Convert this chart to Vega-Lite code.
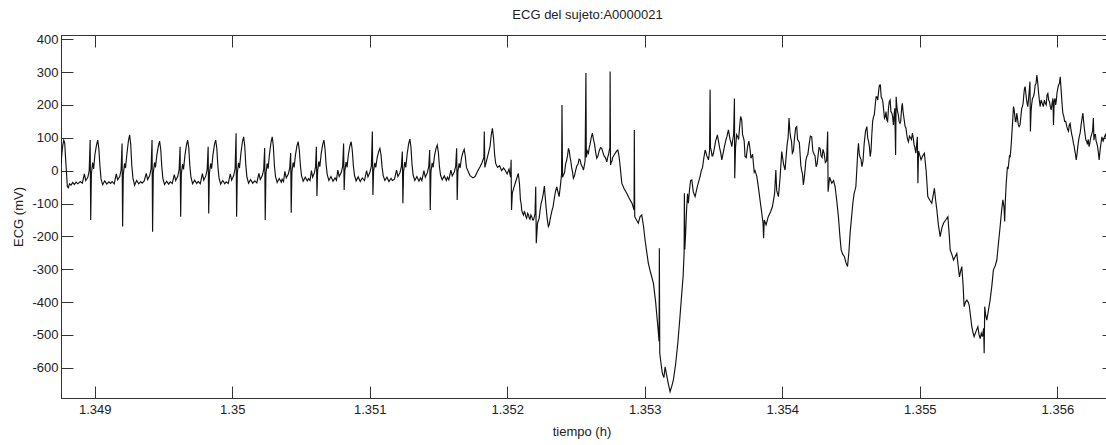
{
  "$schema": "https://vega.github.io/schema/vega-lite/v6.json",
  "width": 1053,
  "height": 363,
  "autosize": "none",
  "padding": {"left": 61, "top": 35, "right": -8, "bottom": 47},
  "background": "white",
  "title": {
    "text": "ECG del sujeto:A0000021",
    "anchor": "middle",
    "font": "Liberation Sans, Arial, sans-serif",
    "fontSize": 13,
    "fontWeight": "normal",
    "color": "#222",
    "offset": 11
  },
  "config": {
    "view": {"stroke": "#333", "strokeWidth": 1},
    "axis": {
      "grid": false,
      "domainColor": "#333",
      "tickColor": "#333",
      "tickSize": -12,
      "labelColor": "#222",
      "labelFont": "Liberation Sans, Arial, sans-serif",
      "labelFontSize": 13,
      "titleFont": "Liberation Sans, Arial, sans-serif",
      "titleFontSize": 13,
      "titleFontWeight": "normal",
      "titleColor": "#222"
    }
  },
  "data": {
    "values": [
      {"h": 1.348755, "mV": 20}, {"h": 1.34876, "mV": 45}, {"h": 1.348767, "mV": 75}, {"h": 1.348775, "mV": 93},
      {"h": 1.348782, "mV": 85}, {"h": 1.348788, "mV": 40}, {"h": 1.348794, "mV": 0}, {"h": 1.348801, "mV": -48},
      {"h": 1.348808, "mV": -52}, {"h": 1.348817, "mV": -40}, {"h": 1.348828, "mV": -44}, {"h": 1.34884, "mV": -36},
      {"h": 1.348852, "mV": -42}, {"h": 1.348865, "mV": -35}, {"h": 1.348877, "mV": -40}, {"h": 1.348895, "mV": -33},
      {"h": 1.34891, "mV": -38}, {"h": 1.348925, "mV": -10}, {"h": 1.348935, "mV": -30}, {"h": 1.34895, "mV": -20},
      {"h": 1.34896, "mV": 0}, {"h": 1.348967, "mV": 93}, {"h": 1.348971, "mV": -150}, {"h": 1.348976, "mV": -10},
      {"h": 1.348985, "mV": 25}, {"h": 1.348992, "mV": 5}, {"h": 1.349002, "mV": 50}, {"h": 1.349013, "mV": 78},
      {"h": 1.349022, "mV": 93}, {"h": 1.34903, "mV": 68}, {"h": 1.349038, "mV": 15}, {"h": 1.349046, "mV": -25},
      {"h": 1.349058, "mV": -43}, {"h": 1.349073, "mV": -31}, {"h": 1.349088, "mV": -41}, {"h": 1.349103, "mV": -34},
      {"h": 1.349115, "mV": -39},
      {"h": 1.349127, "mV": -33}, {"h": 1.349142, "mV": -40}, {"h": 1.349157, "mV": -10}, {"h": 1.349167, "mV": -28},
      {"h": 1.349182, "mV": -18}, {"h": 1.349192, "mV": 2}, {"h": 1.349199, "mV": 83}, {"h": 1.349203, "mV": -170},
      {"h": 1.349208, "mV": -12}, {"h": 1.349217, "mV": 22}, {"h": 1.349224, "mV": 8}, {"h": 1.349234, "mV": 50},
      {"h": 1.349245, "mV": 90}, {"h": 1.349254, "mV": 109}, {"h": 1.349262, "mV": 80}, {"h": 1.34927, "mV": 15},
      {"h": 1.349278, "mV": -22}, {"h": 1.34929, "mV": -44}, {"h": 1.349305, "mV": -30}, {"h": 1.34932, "mV": -40},
      {"h": 1.349335, "mV": -33},
      {"h": 1.349345, "mV": -38}, {"h": 1.34936, "mV": -31}, {"h": 1.349375, "mV": -8}, {"h": 1.349385, "mV": -27},
      {"h": 1.3494, "mV": -15}, {"h": 1.34941, "mV": 5}, {"h": 1.349417, "mV": 93}, {"h": 1.349421, "mV": -186},
      {"h": 1.349426, "mV": -8}, {"h": 1.349435, "mV": 25}, {"h": 1.349442, "mV": 10}, {"h": 1.349452, "mV": 48},
      {"h": 1.349463, "mV": 75}, {"h": 1.349472, "mV": 90}, {"h": 1.34948, "mV": 66}, {"h": 1.349488, "mV": 12},
      {"h": 1.349496, "mV": -24}, {"h": 1.349508, "mV": -42}, {"h": 1.349523, "mV": -32}, {"h": 1.349538, "mV": -41},
      {"h": 1.349549, "mV": -34}, {"h": 1.349564, "mV": -39}, {"h": 1.349579, "mV": -12}, {"h": 1.349589, "mV": -30},
      {"h": 1.349604, "mV": -17}, {"h": 1.349614, "mV": 3}, {"h": 1.349621, "mV": 73}, {"h": 1.349625, "mV": -140},
      {"h": 1.34963, "mV": -10}, {"h": 1.349639, "mV": 20}, {"h": 1.349646, "mV": 4}, {"h": 1.349656, "mV": 46},
      {"h": 1.349667, "mV": 78}, {"h": 1.349676, "mV": 93}, {"h": 1.349684, "mV": 70}, {"h": 1.349692, "mV": 14},
      {"h": 1.3497, "mV": -20}, {"h": 1.349712, "mV": -40}, {"h": 1.349727, "mV": -29}, {"h": 1.349742, "mV": -39},
      {"h": 1.349753, "mV": -33}, {"h": 1.349768, "mV": -40}, {"h": 1.349783, "mV": -9}, {"h": 1.349793, "mV": -29},
      {"h": 1.349808, "mV": -16}, {"h": 1.349818, "mV": 4}, {"h": 1.349825, "mV": 73}, {"h": 1.349829, "mV": -130},
      {"h": 1.349834, "mV": -9}, {"h": 1.349843, "mV": 22}, {"h": 1.34985, "mV": 6}, {"h": 1.34986, "mV": 48},
      {"h": 1.349871, "mV": 80}, {"h": 1.34988, "mV": 93}, {"h": 1.349888, "mV": 68}, {"h": 1.349896, "mV": 12},
      {"h": 1.349904, "mV": -22}, {"h": 1.349916, "mV": -41}, {"h": 1.349931, "mV": -30}, {"h": 1.349946, "mV": -40},
      {"h": 1.349956, "mV": -34}, {"h": 1.349971, "mV": -39}, {"h": 1.349986, "mV": -10}, {"h": 1.349996, "mV": -29},
      {"h": 1.350011, "mV": -14}, {"h": 1.350021, "mV": 6}, {"h": 1.350028, "mV": 114}, {"h": 1.350032, "mV": -140},
      {"h": 1.350037, "mV": -8}, {"h": 1.350046, "mV": 24}, {"h": 1.350053, "mV": 8}, {"h": 1.350063, "mV": 52},
      {"h": 1.350074, "mV": 88}, {"h": 1.350083, "mV": 103}, {"h": 1.350091, "mV": 76}, {"h": 1.350099, "mV": 16},
      {"h": 1.350107, "mV": -20}, {"h": 1.350119, "mV": -38}, {"h": 1.350134, "mV": -27}, {"h": 1.350149, "mV": -38},
      {"h": 1.350164, "mV": -31}, {"h": 1.350179, "mV": -37}, {"h": 1.350194, "mV": -8}, {"h": 1.350204, "mV": -27},
      {"h": 1.350219, "mV": -15}, {"h": 1.350229, "mV": 4}, {"h": 1.350236, "mV": 69}, {"h": 1.35024, "mV": -150},
      {"h": 1.350245, "mV": -10}, {"h": 1.350254, "mV": 22}, {"h": 1.350261, "mV": 6}, {"h": 1.350271, "mV": 50},
      {"h": 1.350282, "mV": 86}, {"h": 1.350291, "mV": 103}, {"h": 1.350299, "mV": 75}, {"h": 1.350307, "mV": 14},
      {"h": 1.350315, "mV": -18}, {"h": 1.350327, "mV": -36}, {"h": 1.350342, "mV": -24}, {"h": 1.350357, "mV": -35},
      {"h": 1.350363, "mV": -26}, {"h": 1.350373, "mV": -33}, {"h": 1.350383, "mV": -2}, {"h": 1.350393, "mV": -22},
      {"h": 1.350408, "mV": -10}, {"h": 1.350418, "mV": 8}, {"h": 1.350425, "mV": 54}, {"h": 1.350429, "mV": -128},
      {"h": 1.350434, "mV": -5}, {"h": 1.350443, "mV": 25}, {"h": 1.35045, "mV": 10}, {"h": 1.35046, "mV": 48},
      {"h": 1.350471, "mV": 76}, {"h": 1.35048, "mV": 88}, {"h": 1.350488, "mV": 62}, {"h": 1.350496, "mV": 15},
      {"h": 1.350504, "mV": -15}, {"h": 1.350516, "mV": -32}, {"h": 1.350531, "mV": -20}, {"h": 1.350546, "mV": -31},
      {"h": 1.350556, "mV": -24}, {"h": 1.350566, "mV": -30}, {"h": 1.350576, "mV": 0}, {"h": 1.350585, "mV": -20},
      {"h": 1.350598, "mV": -6}, {"h": 1.350606, "mV": 12}, {"h": 1.350612, "mV": 73}, {"h": 1.350616, "mV": -77},
      {"h": 1.350621, "mV": -2}, {"h": 1.35063, "mV": 28}, {"h": 1.350637, "mV": 12}, {"h": 1.350647, "mV": 52},
      {"h": 1.350658, "mV": 80}, {"h": 1.350667, "mV": 93}, {"h": 1.350675, "mV": 66}, {"h": 1.350683, "mV": 18},
      {"h": 1.350691, "mV": -12}, {"h": 1.350703, "mV": -30}, {"h": 1.350718, "mV": -18}, {"h": 1.350733, "mV": -32},
      {"h": 1.350748, "mV": -22}, {"h": 1.350758, "mV": -29}, {"h": 1.350768, "mV": 2}, {"h": 1.350778, "mV": -18},
      {"h": 1.350793, "mV": -5}, {"h": 1.350803, "mV": 12}, {"h": 1.35081, "mV": 83}, {"h": 1.350814, "mV": -59},
      {"h": 1.350819, "mV": 0}, {"h": 1.350828, "mV": 26}, {"h": 1.350835, "mV": 10}, {"h": 1.350845, "mV": 50},
      {"h": 1.350856, "mV": 76}, {"h": 1.350865, "mV": 88}, {"h": 1.350873, "mV": 62}, {"h": 1.350881, "mV": 15},
      {"h": 1.350889, "mV": -14}, {"h": 1.350901, "mV": -31}, {"h": 1.350916, "mV": -19}, {"h": 1.350931, "mV": -33},
      {"h": 1.350946, "mV": -22}, {"h": 1.350962, "mV": -30}, {"h": 1.350977, "mV": 0}, {"h": 1.350987, "mV": -19},
      {"h": 1.351002, "mV": -4}, {"h": 1.351012, "mV": 14}, {"h": 1.351019, "mV": 119}, {"h": 1.351023, "mV": -74},
      {"h": 1.351028, "mV": -2}, {"h": 1.351037, "mV": 24}, {"h": 1.351044, "mV": 10}, {"h": 1.351054, "mV": 40},
      {"h": 1.351065, "mV": 58}, {"h": 1.351074, "mV": 68}, {"h": 1.351082, "mV": 48}, {"h": 1.35109, "mV": 10},
      {"h": 1.351098, "mV": -15}, {"h": 1.35111, "mV": -30}, {"h": 1.351125, "mV": -20}, {"h": 1.35114, "mV": -33},
      {"h": 1.351155, "mV": -23},
      {"h": 1.351165, "mV": -30}, {"h": 1.35118, "mV": -26}, {"h": 1.351195, "mV": 2}, {"h": 1.351205, "mV": -18},
      {"h": 1.35122, "mV": -6}, {"h": 1.35123, "mV": 12}, {"h": 1.351237, "mV": 58}, {"h": 1.351241, "mV": -99},
      {"h": 1.351246, "mV": -3}, {"h": 1.351255, "mV": 26}, {"h": 1.351262, "mV": 10}, {"h": 1.351272, "mV": 50},
      {"h": 1.351283, "mV": 82}, {"h": 1.351292, "mV": 96}, {"h": 1.3513, "mV": 70}, {"h": 1.351308, "mV": 16},
      {"h": 1.351316, "mV": -14}, {"h": 1.351328, "mV": -30}, {"h": 1.351343, "mV": -18}, {"h": 1.351358, "mV": -32},
      {"h": 1.351369, "mV": -22}, {"h": 1.351379, "mV": -30}, {"h": 1.351394, "mV": 0}, {"h": 1.351404, "mV": -20},
      {"h": 1.351419, "mV": -6}, {"h": 1.351429, "mV": 12}, {"h": 1.351436, "mV": 63}, {"h": 1.35144, "mV": -120},
      {"h": 1.351445, "mV": -4}, {"h": 1.351454, "mV": 24}, {"h": 1.351461, "mV": 10}, {"h": 1.351471, "mV": 45},
      {"h": 1.351482, "mV": 68}, {"h": 1.351491, "mV": 78}, {"h": 1.351499, "mV": 56}, {"h": 1.351507, "mV": 12},
      {"h": 1.351515, "mV": -14}, {"h": 1.351527, "mV": -28}, {"h": 1.351542, "mV": -16}, {"h": 1.351557, "mV": -30},
      {"h": 1.351565, "mV": -20}, {"h": 1.351575, "mV": -28}, {"h": 1.35159, "mV": 2}, {"h": 1.3516, "mV": -16},
      {"h": 1.351615, "mV": -4}, {"h": 1.351625, "mV": 14}, {"h": 1.351632, "mV": 68}, {"h": 1.351636, "mV": -89},
      {"h": 1.351641, "mV": -2}, {"h": 1.35165, "mV": 22}, {"h": 1.351657, "mV": 8}, {"h": 1.351667, "mV": 38},
      {"h": 1.351678, "mV": 56}, {"h": 1.351687, "mV": 65}, {"h": 1.351695, "mV": 44}, {"h": 1.351703, "mV": 10},
      {"h": 1.351729, "mV": -15}, {"h": 1.351751, "mV": -22}, {"h": 1.351766, "mV": -18}, {"h": 1.351784, "mV": -2},
      {"h": 1.351802, "mV": 12}, {"h": 1.351817, "mV": 25}, {"h": 1.35183, "mV": 40}, {"h": 1.351833, "mV": 119},
      {"h": 1.351837, "mV": 10}, {"h": 1.351851, "mV": 33}, {"h": 1.351864, "mV": 55}, {"h": 1.351875, "mV": 75},
      {"h": 1.351884, "mV": 110}, {"h": 1.351892, "mV": 129}, {"h": 1.3519, "mV": 100}, {"h": 1.351908, "mV": 50},
      {"h": 1.351916, "mV": 22}, {"h": 1.351929, "mV": 10}, {"h": 1.351944, "mV": 15}, {"h": 1.351959, "mV": 0},
      {"h": 1.351973, "mV": 8}, {"h": 1.351984, "mV": 2}, {"h": 1.351999, "mV": -10}, {"h": 1.352013, "mV": 5},
      {"h": 1.352024, "mV": -20}, {"h": 1.352028, "mV": 33}, {"h": 1.352031, "mV": -120}, {"h": 1.352037, "mV": -68},
      {"h": 1.352049, "mV": -50}, {"h": 1.352064, "mV": -30},
      {"h": 1.35208, "mV": -8}, {"h": 1.352089, "mV": -40}, {"h": 1.352096, "mV": -90}, {"h": 1.352101, "mV": -100},
      {"h": 1.352105, "mV": -120}, {"h": 1.352112, "mV": -130}, {"h": 1.352118, "mV": -135}, {"h": 1.352124, "mV": -125},
      {"h": 1.352129, "mV": -128}, {"h": 1.352135, "mV": -140}, {"h": 1.352141, "mV": -145}, {"h": 1.352148, "mV": -130},
      {"h": 1.352155, "mV": -135}, {"h": 1.35216, "mV": -145}, {"h": 1.352165, "mV": -148}, {"h": 1.352172, "mV": -135},
      {"h": 1.352178, "mV": -140}, {"h": 1.352185, "mV": -150}, {"h": 1.352191, "mV": -150}, {"h": 1.352197, "mV": -140},
      {"h": 1.352202, "mV": -130}, {"h": 1.352207, "mV": -49}, {"h": 1.352211, "mV": -221}, {"h": 1.35222, "mV": -160},
      {"h": 1.352232, "mV": -145}, {"h": 1.352239, "mV": -120}, {"h": 1.352246, "mV": -100}, {"h": 1.352253, "mV": -90},
      {"h": 1.352262, "mV": -70}, {"h": 1.35227, "mV": -47}, {"h": 1.352276, "mV": -80}, {"h": 1.352282, "mV": -110},
      {"h": 1.35229, "mV": -145}, {"h": 1.352299, "mV": -170}, {"h": 1.352305, "mV": -165}, {"h": 1.352311, "mV": -150},
      {"h": 1.352318, "mV": -135}, {"h": 1.352326, "mV": -120}, {"h": 1.352333, "mV": -110}, {"h": 1.35234, "mV": -90},
      {"h": 1.35235, "mV": -65}, {"h": 1.35236, "mV": -49}, {"h": 1.352377, "mV": -79}, {"h": 1.352388, "mV": -40},
      {"h": 1.352395, "mV": -10}, {"h": 1.352398, "mV": 200}, {"h": 1.352402, "mV": -20},
      {"h": 1.352417, "mV": -5}, {"h": 1.352424, "mV": 20}, {"h": 1.352431, "mV": 30}, {"h": 1.352438, "mV": 45},
      {"h": 1.352445, "mV": 68}, {"h": 1.352451, "mV": 60}, {"h": 1.352457, "mV": 40}, {"h": 1.352462, "mV": 30},
      {"h": 1.352468, "mV": 10}, {"h": 1.352475, "mV": -5}, {"h": 1.352481, "mV": -23}, {"h": 1.352489, "mV": -15},
      {"h": 1.352497, "mV": 0}, {"h": 1.352506, "mV": 15}, {"h": 1.352515, "mV": 20}, {"h": 1.352522, "mV": 35},
      {"h": 1.35253, "mV": 33}, {"h": 1.352536, "mV": 20}, {"h": 1.352542, "mV": 15}, {"h": 1.352548, "mV": 10},
      {"h": 1.352554, "mV": 2}, {"h": 1.35256, "mV": 15}, {"h": 1.352566, "mV": 30}, {"h": 1.352572, "mV": 297},
      {"h": 1.352575, "mV": 40}, {"h": 1.352582, "mV": 60}, {"h": 1.35259, "mV": 53}, {"h": 1.352596, "mV": 70},
      {"h": 1.352602, "mV": 80}, {"h": 1.35261, "mV": 100}, {"h": 1.352619, "mV": 114}, {"h": 1.352627, "mV": 95},
      {"h": 1.352635, "mV": 80}, {"h": 1.352643, "mV": 55}, {"h": 1.352651, "mV": 38}, {"h": 1.35266, "mV": 45},
      {"h": 1.352668, "mV": 60}, {"h": 1.352678, "mV": 70}, {"h": 1.352687, "mV": 68}, {"h": 1.352696, "mV": 55},
      {"h": 1.352704, "mV": 45}, {"h": 1.352714, "mV": 40}, {"h": 1.352724, "mV": 27}, {"h": 1.35273, "mV": 40},
      {"h": 1.352737, "mV": 50}, {"h": 1.352741, "mV": 60}, {"h": 1.352746, "mV": 70}, {"h": 1.352748, "mV": 302},
      {"h": 1.352751, "mV": 17}, {"h": 1.352756, "mV": 25}, {"h": 1.352762, "mV": 30}, {"h": 1.352766, "mV": 40},
      {"h": 1.352771, "mV": 43}, {"h": 1.35278, "mV": 50}, {"h": 1.352788, "mV": 55}, {"h": 1.352796, "mV": 60},
      {"h": 1.352804, "mV": 63}, {"h": 1.352808, "mV": 55}, {"h": 1.352813, "mV": 43}, {"h": 1.352818, "mV": 25},
      {"h": 1.352824, "mV": 0}, {"h": 1.352833, "mV": -38},
      {"h": 1.35285, "mV": -55}, {"h": 1.352869, "mV": -69}, {"h": 1.352882, "mV": -80},
      {"h": 1.352893, "mV": -89}, {"h": 1.352908, "mV": -100}, {"h": 1.352922, "mV": -120}, {"h": 1.352924, "mV": 124},
      {"h": 1.352927, "mV": -140}, {"h": 1.35294, "mV": -150}, {"h": 1.352953, "mV": -160}, {"h": 1.352966, "mV": -140},
      {"h": 1.352978, "mV": -135}, {"h": 1.352991, "mV": -170}, {"h": 1.353002, "mV": -211}, {"h": 1.353015, "mV": -250},
      {"h": 1.353026, "mV": -282}, {"h": 1.353042, "mV": -310}, {"h": 1.353063, "mV": -343}, {"h": 1.353079, "mV": -400},
      {"h": 1.353095, "mV": -475}, {"h": 1.353104, "mV": -520}, {"h": 1.353106, "mV": -236}, {"h": 1.353109, "mV": -556},
      {"h": 1.353119, "mV": -590}, {"h": 1.353128, "mV": -617}, {"h": 1.353139, "mV": -630}, {"h": 1.353148, "mV": -597},
      {"h": 1.353158, "mV": -620}, {"h": 1.353168, "mV": -642}, {"h": 1.353177, "mV": -660}, {"h": 1.353184, "mV": -673},
      {"h": 1.353197, "mV": -655}, {"h": 1.353208, "mV": -637}, {"h": 1.353224, "mV": -590}, {"h": 1.35324, "mV": -526},
      {"h": 1.353255, "mV": -450}, {"h": 1.353269, "mV": -373}, {"h": 1.353279, "mV": -320}, {"h": 1.353286, "mV": -251},
      {"h": 1.353288, "mV": -69}, {"h": 1.353291, "mV": -240}, {"h": 1.353296, "mV": -200}, {"h": 1.353304, "mV": -120},
      {"h": 1.353311, "mV": -70}, {"h": 1.353317, "mV": -99}, {"h": 1.353326, "mV": -55}, {"h": 1.353333, "mV": -30},
      {"h": 1.353342, "mV": -28}, {"h": 1.353353, "mV": -65}, {"h": 1.353366, "mV": -79}, {"h": 1.353384, "mV": -45},
      {"h": 1.353402, "mV": -18}, {"h": 1.353411, "mV": 0}, {"h": 1.35342, "mV": 10}, {"h": 1.35343, "mV": 40},
      {"h": 1.353439, "mV": 63}, {"h": 1.353445, "mV": 55}, {"h": 1.353451, "mV": 45}, {"h": 1.353457, "mV": 40},
      {"h": 1.353463, "mV": 33}, {"h": 1.353467, "mV": 45}, {"h": 1.353471, "mV": 60}, {"h": 1.353475, "mV": 246},
      {"h": 1.353478, "mV": 70}, {"h": 1.353484, "mV": 60}, {"h": 1.353489, "mV": 45}, {"h": 1.353494, "mV": 45},
      {"h": 1.353499, "mV": 53}, {"h": 1.353507, "mV": 70}, {"h": 1.353515, "mV": 90}, {"h": 1.353522, "mV": 100},
      {"h": 1.353528, "mV": 109}, {"h": 1.353536, "mV": 90}, {"h": 1.353544, "mV": 70}, {"h": 1.353552, "mV": 55},
      {"h": 1.35356, "mV": 33}, {"h": 1.353566, "mV": 45}, {"h": 1.353573, "mV": 60}, {"h": 1.35358, "mV": 75},
      {"h": 1.353588, "mV": 90}, {"h": 1.353598, "mV": 105}, {"h": 1.353608, "mV": 124}, {"h": 1.353614, "mV": 110},
      {"h": 1.35362, "mV": 95}, {"h": 1.353627, "mV": 85}, {"h": 1.353633, "mV": 73}, {"h": 1.35364, "mV": 95},
      {"h": 1.353646, "mV": 110}, {"h": 1.353652, "mV": 220}, {"h": 1.353654, "mV": -23}, {"h": 1.35366, "mV": 70},
      {"h": 1.353668, "mV": 110}, {"h": 1.353676, "mV": 103}, {"h": 1.353682, "mV": 95}, {"h": 1.353689, "mV": 130},
      {"h": 1.353697, "mV": 165}, {"h": 1.353705, "mV": 154}, {"h": 1.353711, "mV": 110}, {"h": 1.353718, "mV": 100},
      {"h": 1.353723, "mV": 90}, {"h": 1.353729, "mV": 43}, {"h": 1.353738, "mV": 40}, {"h": 1.353748, "mV": 75},
      {"h": 1.353757, "mV": 90}, {"h": 1.353766, "mV": 63}, {"h": 1.353772, "mV": 38}, {"h": 1.353779, "mV": 45},
      {"h": 1.353784, "mV": 50}, {"h": 1.35379, "mV": 22}, {"h": 1.353796, "mV": -5}, {"h": 1.353802, "mV": 0},
      {"h": 1.353815, "mV": -18}, {"h": 1.353826, "mV": -50}, {"h": 1.353838, "mV": -89},
      {"h": 1.353851, "mV": -130}, {"h": 1.35386, "mV": -160}, {"h": 1.353864, "mV": -206}, {"h": 1.353869, "mV": -150},
      {"h": 1.353882, "mV": -165}, {"h": 1.353898, "mV": -140}, {"h": 1.353915, "mV": -125}, {"h": 1.353928, "mV": -110},
      {"h": 1.353944, "mV": -70}, {"h": 1.353953, "mV": 2}, {"h": 1.353959, "mV": -60}, {"h": 1.353972, "mV": -79},
      {"h": 1.353984, "mV": -20}, {"h": 1.353996, "mV": 58}, {"h": 1.354009, "mV": 20}, {"h": 1.35402, "mV": 2},
      {"h": 1.354035, "mV": 80}, {"h": 1.354042, "mV": 100}, {"h": 1.354049, "mV": 160}, {"h": 1.354055, "mV": 120},
      {"h": 1.354061, "mV": 100}, {"h": 1.354067, "mV": 90}, {"h": 1.354073, "mV": 53}, {"h": 1.354081, "mV": 60},
      {"h": 1.354089, "mV": 100}, {"h": 1.354097, "mV": 130}, {"h": 1.354105, "mV": 134}, {"h": 1.354111, "mV": 95},
      {"h": 1.354118, "mV": 90}, {"h": 1.354124, "mV": 85}, {"h": 1.354129, "mV": 53}, {"h": 1.354135, "mV": 15},
      {"h": 1.354141, "mV": 0}, {"h": 1.354147, "mV": -10}, {"h": 1.354153, "mV": -43}, {"h": 1.354159, "mV": -25},
      {"h": 1.354165, "mV": 0}, {"h": 1.354171, "mV": 30}, {"h": 1.354178, "mV": 43}, {"h": 1.354186, "mV": 50},
      {"h": 1.354195, "mV": 80}, {"h": 1.354204, "mV": 105}, {"h": 1.354214, "mV": 103}, {"h": 1.354222, "mV": 60},
      {"h": 1.354231, "mV": 50}, {"h": 1.354238, "mV": 45}, {"h": 1.354246, "mV": 12}, {"h": 1.354253, "mV": 20},
      {"h": 1.35426, "mV": 45}, {"h": 1.354267, "mV": 70}, {"h": 1.354275, "mV": 68}, {"h": 1.354282, "mV": 45},
      {"h": 1.354289, "mV": 40}, {"h": 1.354296, "mV": 65}, {"h": 1.354304, "mV": 53}, {"h": 1.354313, "mV": 25},
      {"h": 1.354322, "mV": 30}, {"h": 1.35433, "mV": 119}, {"h": 1.354333, "mV": -64}, {"h": 1.354344, "mV": -20},
      {"h": 1.35436, "mV": -38}, {"h": 1.354373, "mV": -30}, {"h": 1.354384, "mV": -49}, {"h": 1.354397, "mV": -95},
      {"h": 1.354408, "mV": -140}, {"h": 1.354419, "mV": -200}, {"h": 1.354428, "mV": -241}, {"h": 1.35444, "mV": -255},
      {"h": 1.354452, "mV": -262}, {"h": 1.354463, "mV": -280}, {"h": 1.354474, "mV": -292}, {"h": 1.354484, "mV": -250},
      {"h": 1.354493, "mV": -190}, {"h": 1.354513, "mV": -99}, {"h": 1.354522, "mV": -70}, {"h": 1.354535, "mV": -49},
      {"h": 1.354544, "mV": 20}, {"h": 1.354549, "mV": 60}, {"h": 1.354554, "mV": 83}, {"h": 1.35456, "mV": 50},
      {"h": 1.354566, "mV": 40}, {"h": 1.354572, "mV": 35}, {"h": 1.354579, "mV": 12}, {"h": 1.354587, "mV": 30},
      {"h": 1.354595, "mV": 80}, {"h": 1.354605, "mV": 120}, {"h": 1.354615, "mV": 134}, {"h": 1.354621, "mV": 100},
      {"h": 1.354627, "mV": 90}, {"h": 1.354633, "mV": 75}, {"h": 1.354639, "mV": 43}, {"h": 1.354645, "mV": 60},
      {"h": 1.354651, "mV": 110}, {"h": 1.354657, "mV": 150}, {"h": 1.354663, "mV": 164}, {"h": 1.354669, "mV": 170},
      {"h": 1.354676, "mV": 200}, {"h": 1.354682, "mV": 225}, {"h": 1.354688, "mV": 225}, {"h": 1.354694, "mV": 215},
      {"h": 1.3547, "mV": 240}, {"h": 1.354706, "mV": 260}, {"h": 1.354713, "mV": 261}, {"h": 1.354719, "mV": 225},
      {"h": 1.354725, "mV": 220}, {"h": 1.354731, "mV": 210}, {"h": 1.354737, "mV": 185}, {"h": 1.354743, "mV": 160},
      {"h": 1.354749, "mV": 165}, {"h": 1.354754, "mV": 180}, {"h": 1.35476, "mV": 154}, {"h": 1.354766, "mV": 150},
      {"h": 1.354772, "mV": 190}, {"h": 1.354778, "mV": 210}, {"h": 1.354784, "mV": 215}, {"h": 1.35479, "mV": 180},
      {"h": 1.354797, "mV": 175}, {"h": 1.354802, "mV": 165}, {"h": 1.354808, "mV": 139}, {"h": 1.354813, "mV": 170},
      {"h": 1.354818, "mV": 190}, {"h": 1.354824, "mV": 48}, {"h": 1.354828, "mV": 225}, {"h": 1.354833, "mV": 195},
      {"h": 1.354838, "mV": 180}, {"h": 1.354844, "mV": 170}, {"h": 1.354849, "mV": 150}, {"h": 1.354856, "mV": 144},
      {"h": 1.354861, "mV": 150}, {"h": 1.354865, "mV": 175}, {"h": 1.354869, "mV": 195}, {"h": 1.354873, "mV": 205},
      {"h": 1.354878, "mV": 180}, {"h": 1.354883, "mV": 165}, {"h": 1.354888, "mV": 150}, {"h": 1.354893, "mV": 134},
      {"h": 1.354899, "mV": 130}, {"h": 1.354905, "mV": 110}, {"h": 1.354911, "mV": 95}, {"h": 1.354917, "mV": 88},
      {"h": 1.354925, "mV": 105}, {"h": 1.354932, "mV": 100}, {"h": 1.354939, "mV": 95}, {"h": 1.354946, "mV": 114},
      {"h": 1.354952, "mV": 100}, {"h": 1.354958, "mV": 80}, {"h": 1.354964, "mV": 70}, {"h": 1.354971, "mV": 53},
      {"h": 1.354982, "mV": 103}, {"h": 1.354986, "mV": -38},
      {"h": 1.354991, "mV": 60}, {"h": 1.355009, "mV": 33}, {"h": 1.355021, "mV": 45}, {"h": 1.355033, "mV": 53},
      {"h": 1.355046, "mV": 0}, {"h": 1.355058, "mV": -79}, {"h": 1.355073, "mV": -90}, {"h": 1.355087, "mV": -99},
      {"h": 1.355097, "mV": -75}, {"h": 1.355106, "mV": -54}, {"h": 1.355115, "mV": -90}, {"h": 1.355124, "mV": -120},
      {"h": 1.355135, "mV": -165}, {"h": 1.355148, "mV": -201}, {"h": 1.35516, "mV": -175}, {"h": 1.355172, "mV": -160},
      {"h": 1.355188, "mV": -150}, {"h": 1.355204, "mV": -140}, {"h": 1.355213, "mV": -190}, {"h": 1.355221, "mV": -241},
      {"h": 1.355233, "mV": -255}, {"h": 1.355245, "mV": -272}, {"h": 1.355257, "mV": -262}, {"h": 1.355269, "mV": -252},
      {"h": 1.355279, "mV": -290}, {"h": 1.355288, "mV": -323}, {"h": 1.355297, "mV": -305}, {"h": 1.355305, "mV": -292},
      {"h": 1.355315, "mV": -350}, {"h": 1.355322, "mV": -414}, {"h": 1.355332, "mV": -400}, {"h": 1.355342, "mV": -394},
      {"h": 1.355351, "mV": -400}, {"h": 1.355359, "mV": -409}, {"h": 1.355368, "mV": -440}, {"h": 1.355378, "mV": -475},
      {"h": 1.355388, "mV": -495}, {"h": 1.355395, "mV": -505}, {"h": 1.355408, "mV": -490}, {"h": 1.355422, "mV": -475},
      {"h": 1.355431, "mV": -500}, {"h": 1.355439, "mV": -511}, {"h": 1.355447, "mV": -495}, {"h": 1.355455, "mV": -505},
      {"h": 1.355464, "mV": -480}, {"h": 1.355468, "mV": -556}, {"h": 1.355472, "mV": -414}, {"h": 1.355479, "mV": -440},
      {"h": 1.355487, "mV": -455}, {"h": 1.355499, "mV": -425}, {"h": 1.355511, "mV": -394}, {"h": 1.355524, "mV": -350},
      {"h": 1.355535, "mV": -302}, {"h": 1.355548, "mV": -290}, {"h": 1.35556, "mV": -272}, {"h": 1.355572, "mV": -220},
      {"h": 1.355584, "mV": -170}, {"h": 1.355595, "mV": -120}, {"h": 1.355604, "mV": -89}, {"h": 1.355612, "mV": -110},
      {"h": 1.355617, "mV": -155}, {"h": 1.355621, "mV": -99},
      {"h": 1.355628, "mV": -40}, {"h": 1.355637, "mV": 12}, {"h": 1.355642, "mV": 5}, {"h": 1.355647, "mV": 25},
      {"h": 1.355652, "mV": 45}, {"h": 1.355657, "mV": 43}, {"h": 1.355663, "mV": 70}, {"h": 1.355669, "mV": 110},
      {"h": 1.355675, "mV": 150}, {"h": 1.355681, "mV": 195}, {"h": 1.355686, "mV": 185}, {"h": 1.35569, "mV": 170},
      {"h": 1.355695, "mV": 150}, {"h": 1.355699, "mV": 149}, {"h": 1.355705, "mV": 175}, {"h": 1.35571, "mV": 160},
      {"h": 1.355716, "mV": 140}, {"h": 1.355722, "mV": 134}, {"h": 1.355729, "mV": 140}, {"h": 1.355735, "mV": 165},
      {"h": 1.355741, "mV": 190}, {"h": 1.355746, "mV": 195}, {"h": 1.355751, "mV": 205}, {"h": 1.355756, "mV": 230},
      {"h": 1.355761, "mV": 250}, {"h": 1.355766, "mV": 256}, {"h": 1.35577, "mV": 240}, {"h": 1.355775, "mV": 220},
      {"h": 1.35578, "mV": 205}, {"h": 1.355785, "mV": 195}, {"h": 1.35579, "mV": 215}, {"h": 1.355795, "mV": 240},
      {"h": 1.355801, "mV": 271}, {"h": 1.355804, "mV": 119}, {"h": 1.355809, "mV": 180}, {"h": 1.355813, "mV": 200},
      {"h": 1.355819, "mV": 220}, {"h": 1.355826, "mV": 225}, {"h": 1.355832, "mV": 235}, {"h": 1.355839, "mV": 260},
      {"h": 1.355845, "mV": 265}, {"h": 1.355851, "mV": 291}, {"h": 1.355857, "mV": 270}, {"h": 1.355863, "mV": 240},
      {"h": 1.355869, "mV": 215}, {"h": 1.355875, "mV": 195}, {"h": 1.355882, "mV": 215}, {"h": 1.35589, "mV": 205},
      {"h": 1.355898, "mV": 195}, {"h": 1.355906, "mV": 215}, {"h": 1.355912, "mV": 205}, {"h": 1.355919, "mV": 200},
      {"h": 1.355925, "mV": 230}, {"h": 1.355931, "mV": 235}, {"h": 1.355937, "mV": 215}, {"h": 1.355943, "mV": 210},
      {"h": 1.355949, "mV": 195}, {"h": 1.355955, "mV": 185}, {"h": 1.355962, "mV": 205}, {"h": 1.355968, "mV": 220},
      {"h": 1.355972, "mV": 139}, {"h": 1.355977, "mV": 210}, {"h": 1.355983, "mV": 220}, {"h": 1.355988, "mV": 200},
      {"h": 1.355993, "mV": 215}, {"h": 1.355997, "mV": 235}, {"h": 1.356003, "mV": 250}, {"h": 1.356008, "mV": 260},
      {"h": 1.356015, "mV": 265}, {"h": 1.356021, "mV": 286}, {"h": 1.356026, "mV": 255}, {"h": 1.35603, "mV": 230},
      {"h": 1.356035, "mV": 200}, {"h": 1.35604, "mV": 175}, {"h": 1.356047, "mV": 165}, {"h": 1.356053, "mV": 150},
      {"h": 1.356061, "mV": 150}, {"h": 1.356069, "mV": 134}, {"h": 1.356075, "mV": 125}, {"h": 1.356081, "mV": 120},
      {"h": 1.356087, "mV": 140}, {"h": 1.356093, "mV": 144}, {"h": 1.356099, "mV": 125}, {"h": 1.356105, "mV": 110},
      {"h": 1.356111, "mV": 100}, {"h": 1.356117, "mV": 83}, {"h": 1.356122, "mV": 75}, {"h": 1.356127, "mV": 60},
      {"h": 1.356132, "mV": 50}, {"h": 1.356137, "mV": 33}, {"h": 1.356143, "mV": 50}, {"h": 1.356148, "mV": 70},
      {"h": 1.356154, "mV": 90}, {"h": 1.356159, "mV": 103}, {"h": 1.356166, "mV": 115}, {"h": 1.356173, "mV": 140},
      {"h": 1.35618, "mV": 160}, {"h": 1.356186, "mV": 175}, {"h": 1.356191, "mV": 150}, {"h": 1.356196, "mV": 130},
      {"h": 1.356202, "mV": 110}, {"h": 1.356207, "mV": 93}, {"h": 1.356213, "mV": 90}, {"h": 1.356219, "mV": 80},
      {"h": 1.356225, "mV": 95}, {"h": 1.356231, "mV": 73}, {"h": 1.356237, "mV": 85}, {"h": 1.356242, "mV": 100},
      {"h": 1.356249, "mV": 110}, {"h": 1.356256, "mV": 120}, {"h": 1.356262, "mV": 160}, {"h": 1.356266, "mV": 93},
      {"h": 1.356271, "mV": 110}, {"h": 1.356277, "mV": 110}, {"h": 1.356282, "mV": 90}, {"h": 1.356287, "mV": 83},
      {"h": 1.356292, "mV": 75}, {"h": 1.356297, "mV": 60}, {"h": 1.356304, "mV": 33}, {"h": 1.356308, "mV": 50},
      {"h": 1.356313, "mV": 70}, {"h": 1.356318, "mV": 85}, {"h": 1.356324, "mV": 103}, {"h": 1.356328, "mV": 95},
      {"h": 1.356333, "mV": 90}, {"h": 1.35634, "mV": 100}, {"h": 1.35635, "mV": 110}, {"h": 1.35636, "mV": 95},
      {"h": 1.35637, "mV": 80}, {"h": 1.35638, "mV": 100}, {"h": 1.35639, "mV": 95}, {"h": 1.356402, "mV": 85},
      {"h": 1.356415, "mV": 100}
    ]
  },
  "layer": [
    {
      "mark": {"type": "line", "color": "#111", "strokeWidth": 1.15, "clip": true},
      "encoding": {
        "x": {
          "field": "h",
          "type": "quantitative",
          "scale": {"domain": [1.348755, 1.356412], "nice": false, "zero": false},
          "axis": {
            "orient": "bottom",
            "title": "tiempo (h)",
            "values": [1.349, 1.35, 1.351, 1.352, 1.353, 1.354, 1.355, 1.356],
            "labelExpr": "toString(datum.value)",
            "labelPadding": 17,
            "titleX": 520.5,
            "titleY": 33,
            "titleAlign": "center",
            "titleBaseline": "middle"
          }
        },
        "y": {
          "field": "mV",
          "type": "quantitative",
          "scale": {"domain": [-692, 413], "nice": false, "zero": false},
          "axis": {
            "orient": "left",
            "title": "ECG (mV)",
            "values": [-600, -500, -400, -300, -200, -100, 0, 100, 200, 300, 400],
            "labelExpr": "toString(datum.value)",
            "labelPadding": 15,
            "titleX": -43,
            "titleY": 181.5,
            "titleAlign": "center",
            "titleBaseline": "middle"
          }
        }
      }
    },
    {
      "mark": {"type": "line", "opacity": 0},
      "encoding": {
        "x": {
          "field": "h",
          "type": "quantitative",
          "axis": {
            "orient": "top",
            "title": null,
            "labels": false,
            "values": [1.349, 1.35, 1.351, 1.352, 1.353, 1.354, 1.355, 1.356]
          }
        },
        "y": {
          "field": "mV",
          "type": "quantitative",
          "axis": {
            "orient": "right",
            "title": null,
            "labels": false,
            "values": [-600, -500, -400, -300, -200, -100, 0, 100, 200, 300, 400]
          }
        }
      }
    }
  ],
  "resolve": {"axis": {"x": "independent", "y": "independent"}}
}
